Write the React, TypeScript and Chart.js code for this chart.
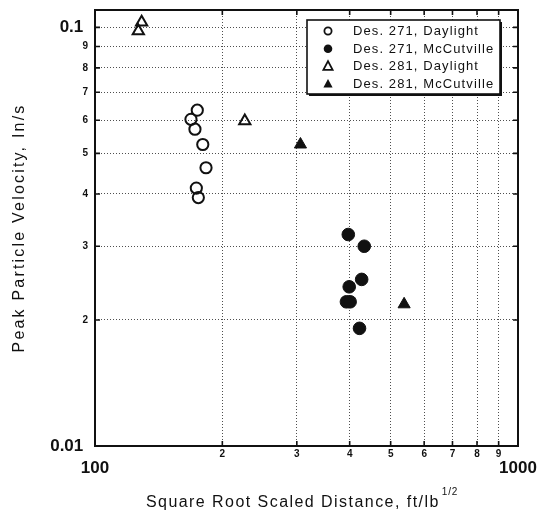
import React, { useEffect, useRef } from "react";
import { Chart, registerables } from "chart.js";

Chart.register(...registerables);

const FONT = "'Liberation Sans', Arial, Helvetica, sans-serif";
const INK = "#111111";

const xTickValues = [100, 200, 300, 400, 500, 600, 700, 800, 900, 1000];
const xTickLabels = ["100", "2", "3", "4", "5", "6", "7", "8", "9", "1000"];
const yTickValues = [0.01, 0.02, 0.03, 0.04, 0.05, 0.06, 0.07, 0.08, 0.09, 0.1];
const yTickLabels = ["0.01", "2", "3", "4", "5", "6", "7", "8", "9", "0.1"];

const seriesLabels = [
  "Des. 271, Daylight",
  "Des. 271, McCutville",
  "Des. 281, Daylight",
  "Des. 281, McCutville",
];

const des271DaylightX = [174.5, 168.6, 172.3, 179.8, 183, 173.6, 175.5];
const des271DaylightY = [0.0634, 0.0603, 0.0571, 0.0525, 0.0462, 0.0413, 0.0392];
const des271McCutvilleX = [397, 433, 427, 399, 393, 401, 422];
const des271McCutvilleY = [0.032, 0.03, 0.025, 0.024, 0.0221, 0.0221, 0.0191];
const des281DaylightX = [126.6, 128.9, 226];
const des281DaylightY = [0.098, 0.1029, 0.0597];
const des281McCutvilleX = [306, 538];
const des281McCutvilleY = [0.0525, 0.0218];

const xTitle = "Square Root Scaled Distance, ft/lb";
const xTitleSup = "1/2";
const yTitle = "Peak Particle Velocity, In/s";

const pts = (xs: number[], ys: number[]) => xs.map((x, i) => ({ x, y: ys[i] }));

const near = (a: number, b: number) => Math.abs(a - b) / b < 1e-6;

function drawSymbol(ctx: CanvasRenderingContext2D, kind: string, filled: boolean, x: number, y: number) {
  ctx.beginPath();
  if (kind === "circle") {
    ctx.arc(x, y, filled ? 4.3 : 3.6, 0, Math.PI * 2);
  } else {
    ctx.moveTo(x, y - 5.2);
    ctx.lineTo(x + 4.6, y + 3.4);
    ctx.lineTo(x - 4.6, y + 3.4);
    ctx.closePath();
  }
  if (filled) {
    ctx.fillStyle = INK;
    ctx.fill();
  } else {
    ctx.lineWidth = 1.8;
    ctx.strokeStyle = INK;
    ctx.stroke();
  }
}

const decorPlugin = {
  id: "decor",
  afterDraw(chart: any) {
    const { ctx, chartArea: a, scales } = chart;
    ctx.save();
    // frame
    ctx.strokeStyle = INK;
    ctx.lineWidth = 2;
    ctx.strokeRect(a.left, a.top, a.right - a.left, a.bottom - a.top);
    // inward tick marks
    ctx.lineWidth = 1.6;
    const tl = 5;
    ctx.beginPath();
    for (const v of xTickValues) {
      const px = scales.x.getPixelForValue(v);
      ctx.moveTo(px, a.bottom);
      ctx.lineTo(px, a.bottom - tl);
      ctx.moveTo(px, a.top);
      ctx.lineTo(px, a.top + tl);
    }
    for (const v of yTickValues) {
      const py = scales.y.getPixelForValue(v);
      ctx.moveTo(a.left, py);
      ctx.lineTo(a.left + tl, py);
      ctx.moveTo(a.right, py);
      ctx.lineTo(a.right - tl, py);
    }
    ctx.stroke();

    // legend
    const lw = 193;
    const lh = 74;
    const lx = a.right - 211;
    const ly = a.top + 10;
    ctx.fillStyle = INK;
    ctx.fillRect(lx + 2, ly + 2, lw, lh);
    ctx.fillStyle = "#ffffff";
    ctx.fillRect(lx, ly, lw, lh);
    ctx.strokeStyle = INK;
    ctx.lineWidth = 1.6;
    ctx.strokeRect(lx, ly, lw, lh);
    const kinds = ["circle", "circle", "triangle", "triangle"];
    const fills = [false, true, false, true];
    ctx.font = `13px ${FONT}`;
    (ctx as any).letterSpacing = "1.1px";
    ctx.textBaseline = "middle";
    ctx.textAlign = "left";
    chart.data.datasets.forEach((ds: any, i: number) => {
      const ry = ly + 11 + i * 17.7;
      drawSymbol(ctx, kinds[i], fills[i], lx + 21, ry);
      ctx.fillStyle = INK;
      ctx.fillText(ds.label, lx + 46, ry + 0.5);
    });

    // x title with superscript
    const cx = (a.left + a.right) / 2 - 4;
    ctx.font = `16px ${FONT}`;
    (ctx as any).letterSpacing = "1.45px";
    const mainW = ctx.measureText(xTitle).width;
    ctx.font = `10px ${FONT}`;
    (ctx as any).letterSpacing = "0.8px";
    const supW = ctx.measureText(xTitleSup).width;
    const startX = cx - (mainW + 3 + supW) / 2;
    ctx.textBaseline = "alphabetic";
    ctx.fillStyle = INK;
    ctx.font = `16px ${FONT}`;
    (ctx as any).letterSpacing = "1.45px";
    ctx.fillText(xTitle, startX, 507);
    ctx.font = `10px ${FONT}`;
    (ctx as any).letterSpacing = "0.8px";
    ctx.fillText(xTitleSup, startX + mainW + 2, 495);

    // y title rotated
    ctx.font = `16px ${FONT}`;
    (ctx as any).letterSpacing = "2.2px";
    const cy = (a.top + a.bottom) / 2;
    ctx.translate(20, cy);
    ctx.rotate(-Math.PI / 2);
    ctx.textAlign = "center";
    ctx.textBaseline = "middle";
    ctx.fillText(yTitle, 0, 0);
    ctx.restore();
  },
};

export default function App() {
  const ref = useRef<HTMLCanvasElement | null>(null);

  useEffect(() => {
    if (!ref.current) return;
    const gridColor = "rgba(20,20,20,0.75)";
    const chart = new Chart(ref.current, {
      type: "scatter",
      data: {
        datasets: [
          {
            label: seriesLabels[0],
            data: pts(des271DaylightX, des271DaylightY),
            pointStyle: "circle",
            pointRadius: 5.6,
            pointBorderWidth: 2,
            borderColor: INK,
            backgroundColor: "rgba(0,0,0,0)",
          },
          {
            label: seriesLabels[1],
            data: pts(des271McCutvilleX, des271McCutvilleY),
            pointStyle: "circle",
            pointRadius: 6.3,
            pointBorderWidth: 1,
            borderColor: INK,
            backgroundColor: INK,
          },
          {
            label: seriesLabels[2],
            data: pts(des281DaylightX, des281DaylightY),
            pointStyle: "triangle",
            pointRadius: 6.5,
            pointBorderWidth: 2,
            borderColor: INK,
            backgroundColor: "rgba(0,0,0,0)",
          },
          {
            label: seriesLabels[3],
            data: pts(des281McCutvilleX, des281McCutvilleY),
            pointStyle: "triangle",
            pointRadius: 7,
            pointBorderWidth: 1,
            borderColor: INK,
            backgroundColor: INK,
          },
        ],
      },
      options: {
        animation: false,
        responsive: false,
        devicePixelRatio: 1,
        layout: { padding: { left: 0, right: 24, top: 10, bottom: 0 } },
        plugins: {
          legend: { display: false },
          tooltip: { enabled: false },
        },
        scales: {
          x: {
            type: "logarithmic",
            min: 100,
            max: 1000,
            afterBuildTicks: (s: any) => {
              s.ticks = xTickValues.map((v) => ({ value: v }));
            },
            afterFit: (s: any) => {
              s.height = 71;
              s.paddingLeft = 0;
              s.paddingRight = 0;
            },
            grid: { color: gridColor, lineWidth: 1, drawTicks: false },
            border: { display: false, dash: [1, 2] },
            ticks: {
              autoSkip: false,
              maxRotation: 0,
              minRotation: 0,
              padding: 2,
              color: INK,
              callback: (v: any) => {
                const i = xTickValues.findIndex((t) => near(t, Number(v)));
                if (i < 0) return "";
                const lbl = xTickLabels[i];
                return i === 0 || i === xTickValues.length - 1 ? ["", lbl] : lbl;
              },
              font: (c: any) => {
                const v = c.tick ? c.tick.value : 0;
                if (near(v, 100) || near(v, 1000))
                  return { family: FONT, size: 17, weight: "bold", lineHeight: 0.78 };
                return { family: FONT, size: 10, weight: "bold", lineHeight: 1.2 };
              },
            },
          },
          y: {
            type: "logarithmic",
            min: 0.01,
            max: 0.11,
            afterBuildTicks: (s: any) => {
              s.ticks = yTickValues.map((v) => ({ value: v }));
            },
            afterFit: (s: any) => {
              s.width = 95;
              s.paddingTop = 0;
              s.paddingBottom = 0;
            },
            grid: { color: gridColor, lineWidth: 1, drawTicks: false },
            border: { display: false, dash: [1, 2] },
            ticks: {
              autoSkip: false,
              padding: 7,
              color: INK,
              callback: (v: any) => {
                const i = yTickValues.findIndex((t) => near(t, Number(v)));
                if (i < 0) return "";
                const lbl = yTickLabels[i];
                return i === 0 || i === yTickValues.length - 1 ? lbl + " " : lbl;
              },
              font: (c: any) => {
                const v = c.tick ? c.tick.value : 0;
                if (near(v, 0.1) || near(v, 0.01)) return { family: FONT, size: 17, weight: "bold" };
                return { family: FONT, size: 10, weight: "bold" };
              },
            },
          },
        },
      },
      plugins: [decorPlugin],
    } as any);
    return () => chart.destroy();
  }, []);

  return (
    <div style={{ position: "absolute", left: 0, top: 0, width: 542, height: 517, background: "#fff" }}>
      <canvas ref={ref} width={542} height={517} style={{ display: "block" }} />
    </div>
  );
}
